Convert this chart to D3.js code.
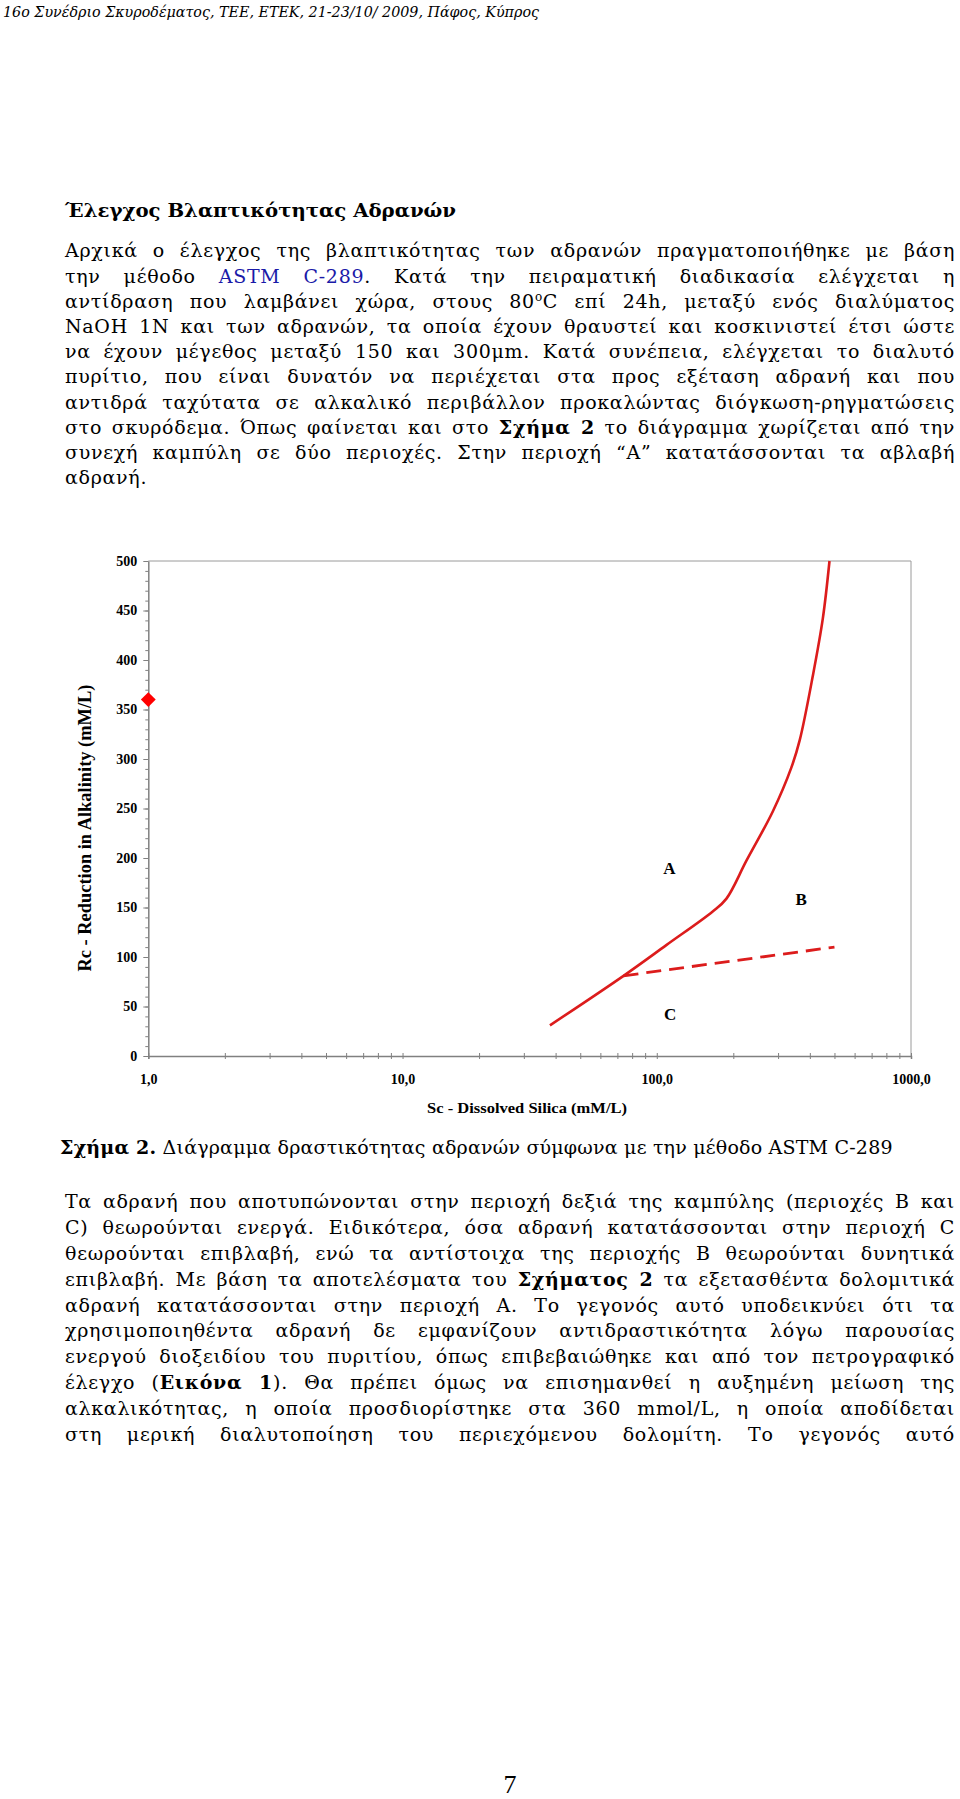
<!DOCTYPE html>
<html lang="el">
<head>
<meta charset="UTF-8">
<title>Σχήμα 2 - ASTM C-289</title>
<script src="https://d3js.org/d3.v7.min.js"></script>
<style>
  * { margin: 0; padding: 0; box-sizing: border-box; }
  body { background: #fff; width: 960px; height: 1799px; overflow: hidden; }
  svg { display: block; font-family: "Liberation Serif", "Times New Roman", serif; }
  .body-text { font-family: "DejaVu Serif", serif; }
</style>
</head>
<body>
<svg id="page" width="960" height="1799"></svg>
<script>
// --- chart data ---
const curveSi = [38, 74, 109, 166, 188, 225, 286, 338, 365, 411, 450, 478];
const curveRc = [31, 81, 112, 146, 159, 197, 247, 291, 319, 384, 442, 500];
const dashSi = [74, 500];
const dashRc = [81, 110];
const pointSi = [1];
const pointRc = [360];
const regionNames = ["A", "B", "C"];
const regionSi = [112, 370, 113];
const regionRc = [189, 158, 42];
const xTickValues = [1, 10, 100, 1000];
const xTickLabels = ["1,0", "10,0", "100,0", "1000,0"];
const yTickValues = [0, 50, 100, 150, 200, 250, 300, 350, 400, 450, 500];

// --- page text ---
const header = "16ο Συνέδριο Σκυροδέματος, ΤΕΕ, ΕΤΕΚ, 21-23/10/ 2009, Πάφος, Κύπρος";
const heading = "Έλεγχος Βλαπτικότητας Αδρανών";
const para1 = [
  "Αρχικά ο έλεγχος της βλαπτικότητας των αδρανών πραγματοποιήθηκε με βάση",
  "την μέθοδο [[ASTM C-289]]. Κατά την πειραματική διαδικασία ελέγχεται η",
  "αντίδραση που λαμβάνει χώρα, στους 80^o^C επί 24h, μεταξύ ενός διαλύματος",
  "NaOH 1N και των αδρανών, τα οποία έχουν θραυστεί και κοσκινιστεί έτσι ώστε",
  "να έχουν μέγεθος μεταξύ 150 και 300μm. Κατά συνέπεια, ελέγχεται το διαλυτό",
  "πυρίτιο, που είναι δυνατόν να περιέχεται στα προς εξέταση αδρανή και που",
  "αντιδρά ταχύτατα σε αλκαλικό περιβάλλον προκαλώντας διόγκωση-ρηγματώσεις",
  "στο σκυρόδεμα. Όπως φαίνεται και στο **Σχήμα 2** το διάγραμμα χωρίζεται από την",
  "συνεχή καμπύλη σε δύο περιοχές. Στην περιοχή “Α” κατατάσσονται τα αβλαβή",
  "αδρανή."
];
const caption = "**Σχήμα 2.** Διάγραμμα δραστικότητας αδρανών σύμφωνα με την μέθοδο ASTM C-289";
const para2 = [
  "Τα αδρανή που αποτυπώνονται στην περιοχή δεξιά της καμπύλης (περιοχές Β και",
  "C) θεωρούνται ενεργά. Ειδικότερα, όσα αδρανή κατατάσσονται στην περιοχή C",
  "θεωρούνται επιβλαβή, ενώ τα αντίστοιχα της περιοχής Β θεωρούνται δυνητικά",
  "επιβλαβή. Με βάση τα αποτελέσματα του **Σχήματος 2** τα εξετασθέντα δολομιτικά",
  "αδρανή κατατάσσονται στην περιοχή Α. Το γεγονός αυτό υποδεικνύει ότι τα",
  "χρησιμοποιηθέντα αδρανή δε εμφανίζουν αντιδραστικότητα λόγω παρουσίας",
  "ενεργού διοξειδίου του πυριτίου, όπως επιβεβαιώθηκε και από τον πετρογραφικό",
  "έλεγχο (**Εικόνα 1**). Θα πρέπει όμως να επισημανθεί η αυξημένη μείωση της",
  "αλκαλικότητας, η οποία προσδιορίστηκε στα 360 mmol/L, η οποία αποδίδεται",
  "στη μερική διαλυτοποίηση του περιεχόμενου δολομίτη. Το γεγονός αυτό"
];

const svg = d3.select("#page");
const textLeft = 65, textRight = 955, fontSize = 19;

// writes one line; **bold**, [[blue]], ^sup^
function writeLine(str, x, y, justify, spacing) {
  const t = svg.append("text")
    .attr("class", "body-text")
    .attr("x", x).attr("y", y)
    .attr("font-size", fontSize)
    .attr("letter-spacing", spacing)
    .attr("fill", "#000");
  let back = 0;
  str.split(/(\*\*.*?\*\*|\[\[.*?\]\]|\^.*?\^)/).filter(s => s).forEach(s => {
    let ts;
    if (s.startsWith("**")) {
      ts = t.append("tspan").attr("font-weight", "bold").text(s.slice(2, -2));
    } else if (s.startsWith("[[")) {
      ts = t.append("tspan").attr("fill", "#1a1aa8").text(s.slice(2, -2));
    } else if (s.startsWith("^")) {
      t.append("tspan").attr("font-size", 12).attr("dy", -7).text(s.slice(1, -1));
      back = 7;
      return;
    } else {
      ts = t.append("tspan").text(s);
    }
    if (back) { ts.attr("dy", back); back = 0; }
  });
  if (justify) {
    const target = textRight - x;
    const w = t.node().getComputedTextLength();
    const n = (t.text().match(/ /g) || []).length;
    if (w > target) {
      t.attr("textLength", target).attr("lengthAdjust", "spacingAndGlyphs");
    } else if (n) {
      t.attr("word-spacing", (target - w) / n);
    }
  }
  return t;
}

svg.append("text")
  .attr("class", "body-text")
  .attr("x", 3).attr("y", 17)
  .attr("font-size", 14).attr("font-style", "italic")
  .attr("textLength", 536).attr("lengthAdjust", "spacingAndGlyphs")
  .text(header);

svg.append("text")
  .attr("class", "body-text")
  .attr("x", textLeft).attr("y", 217)
  .attr("font-size", 19).attr("font-weight", "bold")
  .attr("textLength", 391).attr("lengthAdjust", "spacingAndGlyphs")
  .text(heading);

para1.forEach((l, i) => writeLine(l, textLeft, 257.3 + i * 25.2, i < para1.length - 1, 0.7));
writeLine(caption, 60, 1154, false, 0.2);
para2.forEach((l, i) => writeLine(l, textLeft, 1208.3 + i * 25.8, true, 0.7));

svg.append("text")
  .attr("x", 510).attr("y", 1793)
  .attr("text-anchor", "middle")
  .attr("font-size", 26)
  .text("7");

// --- chart ---
const plot = { left: 148.3, right: 911, top: 561, bottom: 1056 };
const x = d3.scaleLog().domain([1, 1000]).range([plot.left, plot.right]);
const y = d3.scaleLinear().domain([0, 500]).range([plot.bottom, plot.top]);
const red = "#dc1c1c";
const axisGray = "#808080";

const chart = svg.append("g").attr("font-weight", "bold");

// plot frame (top and right)
chart.append("path")
  .attr("d", `M${plot.left},${plot.top}H${plot.right}V${plot.bottom}`)
  .attr("fill", "none").attr("stroke", "#9a9a9a").attr("stroke-width", 1);

// y axis: minor ticks every 10, major every 50
const yMinor = chart.append("g")
  .attr("transform", `translate(${plot.left},0)`)
  .call(d3.axisLeft(y).tickValues(d3.range(0, 501, 10)).tickSize(3).tickFormat(""));
yMinor.select(".domain").remove();
yMinor.selectAll("line").attr("stroke", axisGray);

const yAxis = chart.append("g")
  .attr("transform", `translate(${plot.left},0)`)
  .call(d3.axisLeft(y).tickValues(yTickValues).tickSize(5).tickPadding(6).tickSizeOuter(0));
yAxis.select(".domain").attr("stroke", axisGray).attr("stroke-width", 1.5);
yAxis.selectAll("line").attr("stroke", axisGray);
yAxis.selectAll("text")
  .attr("font-family", "Liberation Serif, serif")
  .attr("font-size", 14).attr("font-weight", "bold").attr("fill", "#000");

// x axis: log ticks crossing the axis line
const xMinor = chart.append("g")
  .attr("transform", `translate(0,${plot.bottom})`)
  .call(d3.axisBottom(x).tickValues(x.ticks()).tickSize(3).tickFormat(""));
xMinor.select(".domain").attr("stroke", axisGray).attr("stroke-width", 1.5);
xMinor.selectAll(".tick line").attr("y1", -3).attr("stroke", axisGray);

const xAxis = chart.append("g")
  .attr("transform", `translate(0,${plot.bottom})`)
  .call(d3.axisBottom(x).tickValues(xTickValues).tickSize(0).tickPadding(18)
    .tickFormat((d, i) => xTickLabels[i]));
xAxis.select(".domain").remove();
xAxis.selectAll("text")
  .attr("font-family", "Liberation Serif, serif")
  .attr("font-size", 14).attr("font-weight", "bold").attr("fill", "#000");

// axis titles
chart.append("text")
  .attr("transform", `translate(85,828) rotate(-90)`)
  .attr("text-anchor", "middle").attr("dominant-baseline", "central")
  .attr("font-size", 18)
  .attr("textLength", 287).attr("lengthAdjust", "spacingAndGlyphs")
  .text("Rc - Reduction in Alkalinity (mM/L)");

chart.append("text")
  .attr("x", 527).attr("y", 1113)
  .attr("text-anchor", "middle")
  .attr("font-size", 15)
  .attr("textLength", 200).attr("lengthAdjust", "spacingAndGlyphs")
  .text("Sc - Dissolved Silica (mM/L)");

// boundary curve
const curve = curveSi.map((v, i) => [v, curveRc[i]]);
chart.append("path")
  .datum(curve)
  .attr("d", d3.line().x(d => x(d[0])).y(d => y(d[1])).curve(d3.curveCatmullRom.alpha(0.5)))
  .attr("fill", "none").attr("stroke", red).attr("stroke-width", 2.6);

// dashed split line
const dash = dashSi.map((v, i) => [v, dashRc[i]]);
chart.append("path")
  .datum(dash)
  .attr("d", d3.line().x(d => x(d[0])).y(d => y(d[1])))
  .attr("fill", "none").attr("stroke", red).attr("stroke-width", 2.8)
  .attr("stroke-dasharray", "15,8");

// measured point
chart.selectAll(".pt")
  .data(pointSi.map((v, i) => [v, pointRc[i]]))
  .join("path")
  .attr("class", "pt")
  .attr("d", d3.symbol(d3.symbolSquare, 110))
  .attr("transform", d => `translate(${x(d[0])},${y(d[1])}) rotate(45)`)
  .attr("fill", "#f00");

// region labels
chart.selectAll(".region")
  .data(regionNames)
  .join("text")
  .attr("class", "region")
  .attr("x", (d, i) => x(regionSi[i]))
  .attr("y", (d, i) => y(regionRc[i]))
  .attr("text-anchor", "middle").attr("dominant-baseline", "central")
  .attr("font-size", 17)
  .text(d => d);
</script>
</body>
</html>
